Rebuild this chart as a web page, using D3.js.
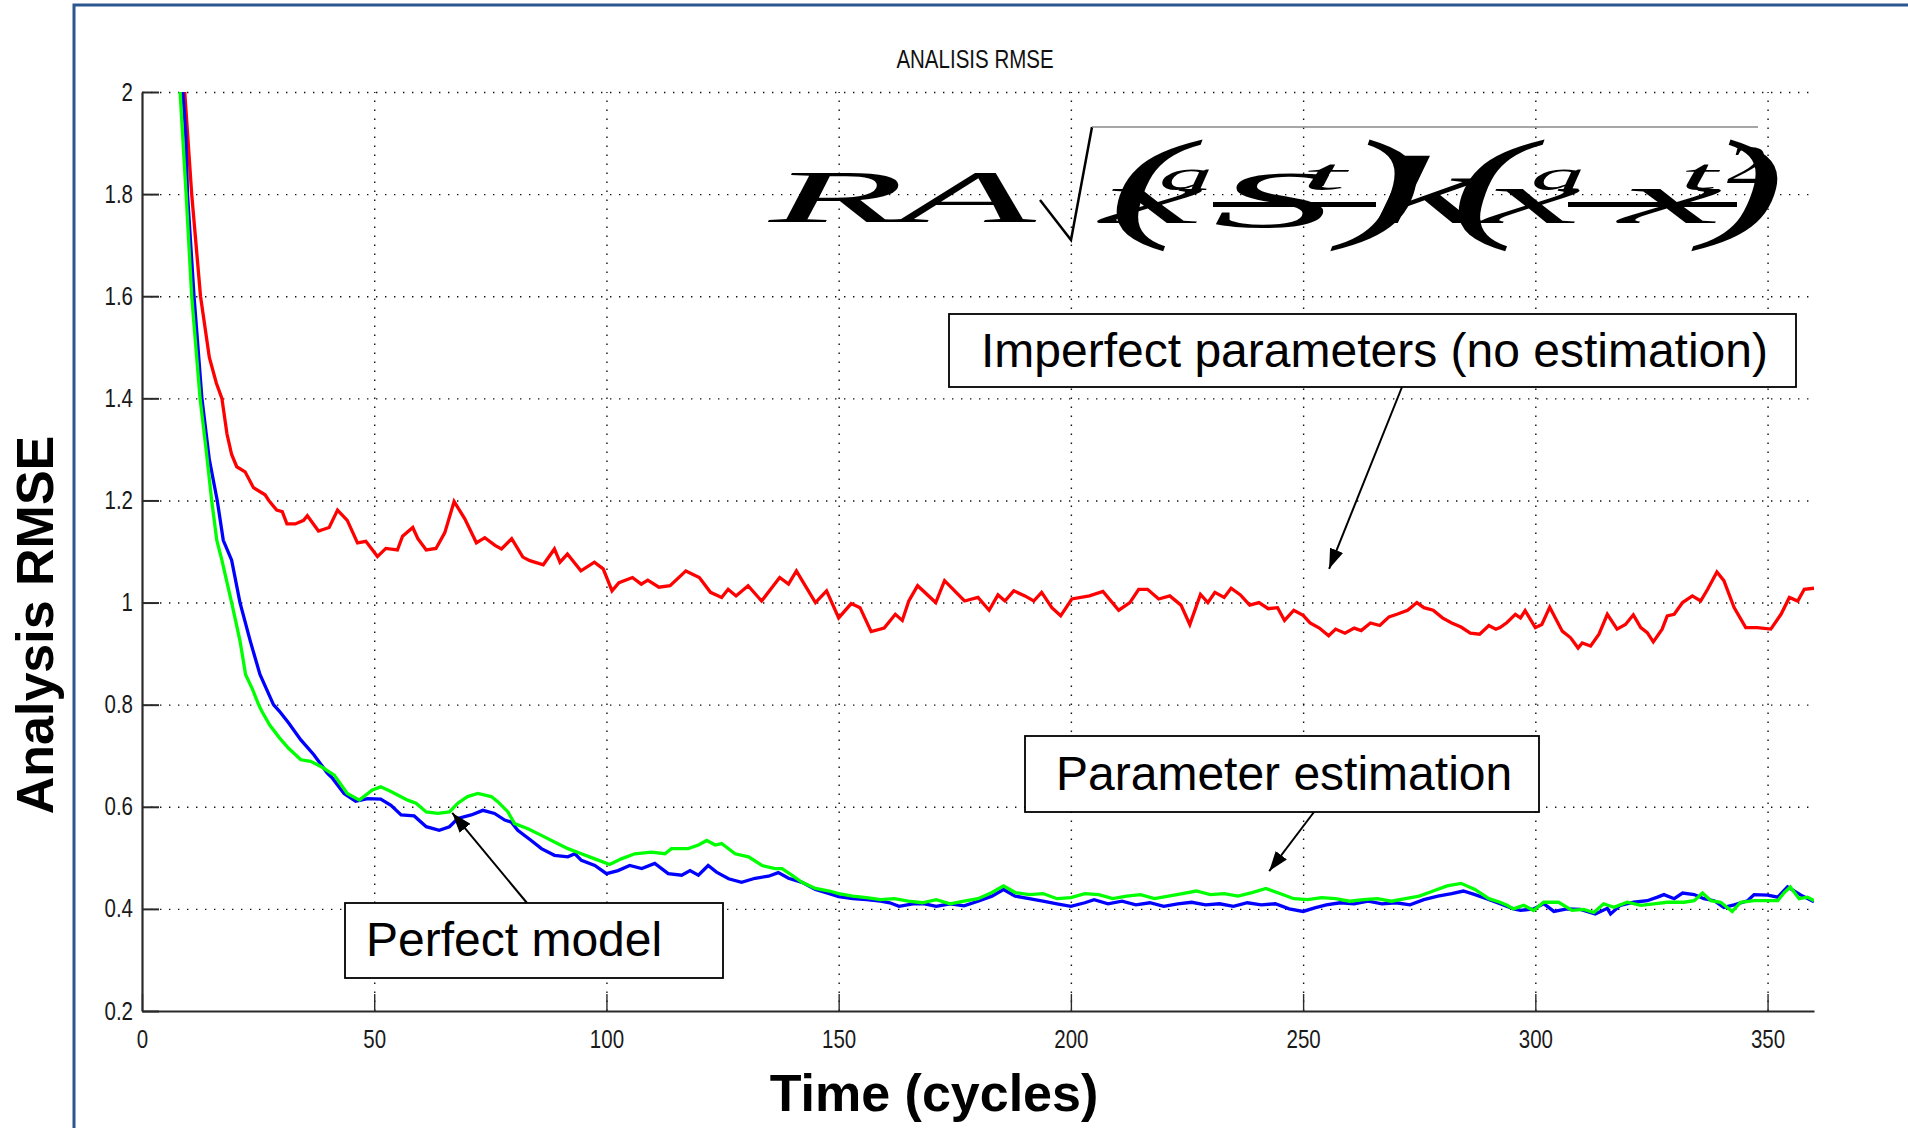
<!DOCTYPE html>
<html><head><meta charset="utf-8">
<script src="https://cdn.jsdelivr.net/npm/d3@7"></script>
<style>
html,body{margin:0;padding:0;background:#fff;}
svg{display:block;}
</style></head><body>
<svg id="chart" width="1908" height="1128"></svg>
<script>
// ---------------- data ----------------
const chartTitle = "ANALISIS RMSE";
const xLabel = "Time (cycles)";
const yLabel = "Analysis RMSE";
const xTicks = [0, 50, 100, 150, 200, 250, 300, 350];
const yTicks = [0.2, 0.4, 0.6, 0.8, 1, 1.2, 1.4, 1.6, 1.8, 2];
const xDomain = [0, 360];
const yDomain = [0.2, 2];

// Imperfect parameters (no estimation) - red
const redCycles = [5,7,9.2,10.7,12.6,14.5,16,17.2,18.3,19.3,20.4,22.2,24,26.5,27.3,29,30.2,31.2,33,34.8,35.6,38,40.3,42.1,44.2,46.4,48.2,50.7,52.5,55,56.1,58.3,59.4,61.2,63.3,65.2,67.2,69.5,72,73.8,76,77.4,79.6,82,83.5,86.4,88.8,90,91.6,94.5,97.4,99.3,101.2,102.7,105.6,107.5,108.9,111.3,113.7,117.1,120,122.4,124.8,126.2,127.9,130.5,133.4,137.3,139.2,140.9,142.6,145,147.4,150,152.7,154.6,157,159.8,162.2,163.7,165.1,167,170.9,172.8,177.1,180,182.4,184.3,185.8,187.7,190.1,192,193.7,195.9,197.8,200.2,204,206.9,210.3,212.7,214.6,216.5,218.9,221.3,223.7,225.6,227.9,229.5,231,233,234.5,236.5,238.5,240.5,242.5,244.5,246,248,250,251.5,253.5,255.5,257,259,261,262.5,264.5,266.5,268.5,270.5,272.5,274.5,276,278,280,282,284,286,288,290,291.5,292.4,293.9,295.7,296.8,297.8,300,301.4,303.1,305.8,307.6,309.2,310.1,311.9,313.7,315.5,317.6,319.4,321.1,322.7,324.1,325.4,327.3,328.4,329.9,331.7,333.8,335.6,337.1,339.1,340.6,342.8,345.3,347.8,350.7,352.9,354.7,356.5,357.9,360];
const redRmse = [2.6,2.3,2.0,1.8,1.6,1.48,1.43,1.4,1.33,1.29,1.266,1.256,1.225,1.211,1.2,1.181,1.178,1.154,1.154,1.161,1.17,1.14,1.147,1.181,1.161,1.117,1.12,1.09,1.106,1.103,1.13,1.147,1.125,1.103,1.106,1.137,1.198,1.164,1.117,1.127,1.112,1.105,1.125,1.089,1.082,1.074,1.105,1.079,1.095,1.062,1.079,1.066,1.023,1.039,1.049,1.036,1.044,1.03,1.033,1.062,1.049,1.02,1.01,1.026,1.013,1.033,1.003,1.049,1.036,1.062,1.036,1.0,1.023,0.97,0.998,0.99,0.943,0.95,0.977,0.965,1.003,1.033,1.0,1.043,1.003,1.01,0.985,1.015,1.003,1.023,1.013,1.003,1.02,0.99,0.974,1.007,1.013,1.022,0.985,1.0,1.026,1.026,1.007,1.013,0.995,0.957,1.016,1.0,1.02,1.01,1.028,1.015,0.995,1.0,0.988,0.99,0.965,0.985,0.975,0.96,0.95,0.935,0.948,0.94,0.95,0.945,0.96,0.955,0.972,0.978,0.985,1.0,0.99,0.985,0.97,0.96,0.952,0.94,0.938,0.955,0.948,0.951,0.961,0.977,0.97,0.984,0.951,0.957,0.991,0.944,0.931,0.911,0.921,0.915,0.938,0.977,0.948,0.957,0.976,0.951,0.941,0.923,0.948,0.974,0.977,1.0,1.013,1.003,1.026,1.06,1.043,0.99,0.951,0.951,0.948,0.977,1.01,1.003,1.026,1.028];

// Perfect model - blue
const blueCycles = [5,7,8.8,9.4,9.8,11.2,12.9,14.5,16.2,17.5,19.3,21.1,23.3,25.4,28.3,29.6,31.5,34.2,37,39.9,41,43.5,46,48.6,51.4,53.6,55.8,58.6,61.2,64,66.2,68,70.9,73.4,75.9,78.1,79.5,80.9,83.8,86,88.8,91.7,93.2,94.6,97.5,100,102.5,105,107.6,110.4,113.3,116.2,118,119.8,121.9,123.7,126.3,129.1,132,134.9,137,139.2,142.1,145,148,150,153,156,159,161,163,166,168.5,171,174,177,180,183,185.5,188,191,194,197,200,203,205,208,211,214,217,220,223,226,229,232,235,238,241,244,247,250,252.5,255,258,261,264,267,270,273,276,279,282,284.5,287,289.5,292.4,295.3,296.8,299.6,301.8,304,306.8,309.7,312.9,315.5,316.2,318.3,321.2,324.1,326.3,327.7,329.9,331.7,334.2,336.3,338.5,340.6,342.8,345.7,347.1,350,352.2,354.3,357.2,360];
const blueRmse = [2.45,2.2,2.0,1.92,1.8,1.6,1.4,1.28,1.2,1.122,1.083,1.0,0.925,0.859,0.8,0.787,0.765,0.731,0.702,0.666,0.656,0.626,0.611,0.616,0.615,0.603,0.584,0.582,0.561,0.554,0.561,0.577,0.584,0.593,0.587,0.574,0.57,0.554,0.534,0.518,0.505,0.502,0.508,0.495,0.485,0.469,0.475,0.485,0.479,0.489,0.469,0.466,0.475,0.466,0.485,0.472,0.459,0.452,0.46,0.464,0.471,0.46,0.452,0.438,0.43,0.424,0.42,0.418,0.415,0.412,0.405,0.41,0.41,0.405,0.41,0.406,0.415,0.425,0.438,0.425,0.42,0.415,0.41,0.405,0.412,0.418,0.41,0.415,0.408,0.412,0.405,0.41,0.413,0.408,0.41,0.405,0.412,0.408,0.41,0.4,0.395,0.402,0.408,0.412,0.41,0.415,0.41,0.412,0.408,0.418,0.425,0.43,0.435,0.428,0.42,0.41,0.4,0.397,0.4,0.41,0.395,0.4,0.399,0.39,0.401,0.39,0.407,0.413,0.416,0.423,0.428,0.42,0.431,0.428,0.42,0.416,0.403,0.408,0.416,0.428,0.427,0.423,0.443,0.427,0.414];

// Parameter estimation - green
const greenCycles = [5,7,8.2,9.5,10.7,12.5,13.8,15,16.1,17.2,19.3,21.1,22.3,23.8,25.1,25.8,27.5,29.6,31.5,34.2,36.3,38.5,41.4,44.2,46.8,49.6,51.4,53.6,57.2,59,61.2,63.7,66.2,68,70.1,72.3,75.2,76.6,78.8,80.2,83.1,86,88.8,91.7,94.6,97.5,100.7,103.2,106.1,109.7,112.6,114,117.6,119.8,121.6,123.4,124.8,127.7,130.6,133.5,136.3,137.8,139.9,142.1,145,148,150,153,156,159,162,165,168,171,174,177,180,183,185.5,188,191,194,197,200,203,206,209,212,215,218,221,224,227,230,233,236,239,242,245,248,251,254,257,260,263,266,269,272,275,278,281,284,287,290,292.4,293.9,295.3,297.5,299.6,301.8,305,307.9,310.4,312.6,314.7,316.9,319.8,322.7,325.5,328.4,332,334.2,336,337.8,339.9,342.4,344.2,347.1,350,352.2,353.6,354.9,356.8,358.6,360];
const greenRmse = [2.4,2.12,2.0,1.8,1.6,1.4,1.3,1.2,1.122,1.083,1.0,0.925,0.859,0.83,0.8,0.787,0.76,0.735,0.715,0.692,0.689,0.679,0.662,0.626,0.613,0.633,0.639,0.63,0.613,0.607,0.59,0.587,0.59,0.607,0.62,0.626,0.62,0.61,0.59,0.567,0.557,0.544,0.531,0.518,0.508,0.498,0.487,0.498,0.508,0.511,0.508,0.518,0.518,0.525,0.534,0.525,0.528,0.508,0.502,0.485,0.479,0.479,0.466,0.452,0.44,0.435,0.43,0.425,0.422,0.418,0.42,0.415,0.412,0.418,0.41,0.415,0.42,0.432,0.445,0.432,0.428,0.43,0.42,0.422,0.43,0.428,0.42,0.425,0.428,0.42,0.425,0.43,0.435,0.428,0.43,0.425,0.432,0.44,0.43,0.42,0.418,0.422,0.42,0.415,0.418,0.42,0.415,0.42,0.425,0.435,0.445,0.45,0.438,0.42,0.413,0.407,0.4,0.407,0.397,0.413,0.413,0.397,0.399,0.393,0.41,0.403,0.413,0.407,0.41,0.413,0.413,0.416,0.431,0.416,0.413,0.395,0.413,0.416,0.416,0.416,0.432,0.443,0.42,0.423,0.416];

// annotations: label and the data point their arrow points at
const annoLabels = ["Imperfect parameters (no estimation)", "Parameter estimation", "Perfect model"];
const annoTipCycle = [255.6, 242.7, 66.8];
const annoTipRmse = [1.066, 0.474, 0.588];

// ---------------- layout ----------------
const L = 142, R = 1814, T = 92, B = 1011;
const svg = d3.select("#chart");
const x = d3.scaleLinear().domain(xDomain).range([L, R]);
const y = d3.scaleLinear().domain(yDomain).range([B, T]);
const SANS = "'Liberation Sans', Arial, Helvetica, sans-serif";
const SERIF = "'Liberation Serif', 'Times New Roman', serif";
const NARROW = 0.82;

// outer frame
svg.append("rect").attr("x", 74).attr("y", 5).attr("width", 1900).attr("height", 1200)
  .attr("fill", "none").attr("stroke", "#2b5690").attr("stroke-width", 3);

// grid
const gx = svg.append("g").attr("transform", `translate(0,${B})`)
  .call(d3.axisBottom(x).tickValues(xTicks.filter(d => d > 0)).tickSize(-(B - T)).tickFormat(""));
const gy = svg.append("g").attr("transform", `translate(${L},0)`)
  .call(d3.axisLeft(y).tickValues(yTicks.filter(d => d > yDomain[0])).tickSize(-(R - L)).tickFormat(""));
[gx, gy].forEach(g => {
  g.select(".domain").remove();
  g.selectAll(".tick line").attr("stroke", "#111").attr("stroke-width", 1.4).attr("stroke-dasharray", "1.4,7.6");
});

// lines
svg.append("defs").append("clipPath").attr("id", "plotclip")
  .append("rect").attr("x", L).attr("y", T).attr("width", R - L).attr("height", B - T);
const line = d3.line().x(d => x(d[0])).y(d => y(d[1]));
const series = [
  {c: redCycles, v: redRmse, color: "#ff0000"},
  {c: blueCycles, v: blueRmse, color: "#0000ff"},
  {c: greenCycles, v: greenRmse, color: "#00ff00"}
];
const lg = svg.append("g").attr("clip-path", "url(#plotclip)");
series.forEach(s => {
  lg.append("path").datum(d3.zip(s.c, s.v)).attr("d", line)
    .attr("fill", "none").attr("stroke", s.color).attr("stroke-width", 3.3).attr("stroke-linejoin", "miter");
});

// axes
const ax = svg.append("g").attr("transform", `translate(0,${B})`)
  .call(d3.axisBottom(x).tickValues(xTicks).tickSize(-17).tickSizeOuter(0).tickPadding(19).tickFormat(d3.format("")));
const ay = svg.append("g").attr("transform", `translate(${L},0)`)
  .call(d3.axisLeft(y).tickValues(yTicks).tickSize(-17).tickSizeOuter(0).tickPadding(9).tickFormat(d3.format("")));
[ax, ay].forEach(g => {
  g.select(".domain").attr("stroke", "#2a2a2a").attr("stroke-width", 2.2);
  g.selectAll(".tick line").attr("stroke", "#2a2a2a").attr("stroke-width", 2);
  g.selectAll(".tick text").attr("fill", "#1a1a1a").style("font-family", SANS).style("font-size", "25px");
});
ax.selectAll(".tick line").attr("stroke-width", 1.4);
ax.selectAll(".tick text").attr("transform", `scale(${NARROW},1)`);
ay.selectAll(".tick text").attr("x", -9 / NARROW).attr("transform", `scale(${NARROW},1)`);

// title
svg.append("text").attr("transform", `translate(975,68) scale(${NARROW},1)`)
  .attr("text-anchor", "middle").style("font-family", SANS).style("font-size", "25px").attr("fill", "#111")
  .text(chartTitle);

// axis labels
svg.append("text").attr("x", 934).attr("y", 1111).attr("text-anchor", "middle")
  .style("font-family", SANS).style("font-weight", "bold").style("font-size", "52px").text(xLabel);
svg.append("text").attr("transform", "translate(53,625) rotate(-90)").attr("text-anchor", "middle")
  .style("font-family", SANS).style("font-weight", "bold").style("font-size", "52px").text(yLabel);

// garbled formula (as rendered in the original)
const fg = svg.append("g").attr("fill", "#000").style("font-family", SERIF).style("font-style", "italic");
const pieces = [
  {t: "R", x: 769, y: 222, fs: 74, sx: 3.0},
  {t: "A", x: 900, y: 222, fs: 74, sx: 3.0},
  {t: "(", x: 1108, y: 225, fs: 123, sx: 2.0},
  {t: "x", x: 1100, y: 223, fs: 73, sx: 3.2},
  {t: "a", x: 1159, y: 190, fs: 45, sx: 2.4},
  {t: "S", x: 1213, y: 227, fs: 80, sx: 3.0},
  {t: "t", x: 1301, y: 190, fs: 45, sx: 3.6},
  {t: ")", x: 1342, y: 225, fs: 123, sx: 2.0},
  {t: "k", x: 1369, y: 223, fs: 97, sx: 2.7},
  {t: "(", x: 1450, y: 225, fs: 123, sx: 2.0},
  {t: "x", x: 1484, y: 223, fs: 73, sx: 3.0},
  {t: "a", x: 1531, y: 190, fs: 45, sx: 2.4},
  {t: "x", x: 1619, y: 223, fs: 73, sx: 3.2},
  {t: "t", x: 1680, y: 190, fs: 45, sx: 3.0},
  {t: ")", x: 1703, y: 225, fs: 123, sx: 2.0},
  {t: "2", x: 1727, y: 183, fs: 55, sx: 1.4}
];
pieces.forEach(p => {
  fg.append("text").attr("transform", `translate(${p.x},${p.y}) scale(${p.sx},1)`)
    .style("font-size", p.fs + "px").text(p.t);
});
fg.append("path").attr("d", "M1040,200 L1071,240 L1092,127").attr("fill", "none").attr("stroke", "#000").attr("stroke-width", 2.5);
fg.append("path").attr("d", "M1092,127 H1758").attr("fill", "none").attr("stroke", "#888").attr("stroke-width", 1.5);
fg.append("path").attr("d", "M1213,204.5 H1376 M1568,204.5 H1737").attr("stroke", "#000").attr("stroke-width", 5);

// annotations
const defs = svg.select("defs");
defs.append("marker").attr("id", "arrow").attr("markerUnits", "userSpaceOnUse")
  .attr("viewBox", "0 0 20 14").attr("refX", 20).attr("refY", 7)
  .attr("markerWidth", 20).attr("markerHeight", 14).attr("orient", "auto")
  .append("path").attr("d", "M0,0 L20,7 L0,14 Z").attr("fill", "#000");
const boxes = [
  {x: 949, y: 314, w: 847, h: 73, tx: 981, ty: 367, ax: 1402, ay: 387},
  {x: 1025, y: 736, w: 514, h: 76, tx: 1056, ty: 790, ax: 1314, ay: 812},
  {x: 345, y: 903, w: 378, h: 75, tx: 366, ty: 956, ax: 527, ay: 903}
];
boxes.forEach((b, i) => {
  svg.append("line").attr("x1", b.ax).attr("y1", b.ay)
    .attr("x2", x(annoTipCycle[i])).attr("y2", y(annoTipRmse[i]))
    .attr("stroke", "#000").attr("stroke-width", 2).attr("marker-end", "url(#arrow)");
  svg.append("rect").attr("x", b.x).attr("y", b.y).attr("width", b.w).attr("height", b.h)
    .attr("fill", "#fff").attr("stroke", "#000").attr("stroke-width", 1.8);
  svg.append("text").attr("x", b.tx).attr("y", b.ty).style("font-family", SANS).style("font-size", "48px")
    .attr("fill", "#000").text(annoLabels[i]);
});
</script>
</body></html>
